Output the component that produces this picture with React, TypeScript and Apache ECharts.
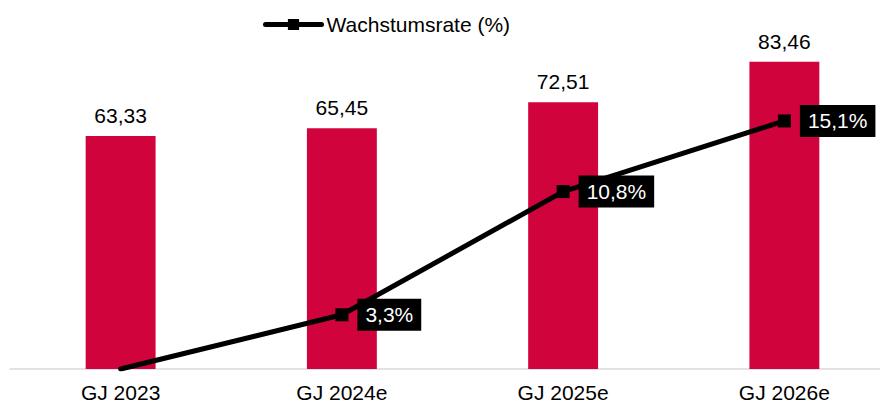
import React, { useEffect, useRef } from "react";
import * as echarts from "echarts";

const categories = ["GJ 2023", "GJ 2024e", "GJ 2025e", "GJ 2026e"];
const barValues = [63.33, 65.45, 72.51, 83.46];
const growthRates = [0, 3.3, 10.8, 15.1];
const lineName = "Wachstumsrate (%)";

const fmt = (v: number, d: number) => v.toFixed(d).replace(".", ",");

export default function App() {
  const ref = useRef<HTMLDivElement>(null);
  useEffect(() => {
    if (!ref.current) return;
    const chart = echarts.init(ref.current, null, { renderer: "svg" });
    const font = "Arial, 'Liberation Sans', sans-serif";
    chart.setOption({
      animation: false,
      textStyle: { fontFamily: font },
      legend: {
        data: [lineName],
        left: 263,
        top: 14,
        padding: 0,
        itemWidth: 56,
        itemHeight: 14,
        itemGap: 5,
        lineStyle: { width: 5, color: "#000" },
        textStyle: { fontSize: 21, color: "#000", fontFamily: font },
      },
      grid: {
        left: 10,
        right: -15,
        top: 1,
        bottom: 34,
        containLabel: false,
        outerBoundsMode: "none",
      },
      xAxis: {
        type: "category",
        data: categories,
        axisTick: { show: false },
        axisLine: { lineStyle: { color: "#D9D9D9", width: 1.5 } },
        axisLabel: {
          color: "#000",
          fontSize: 21,
          lineHeight: 16,
          margin: 15,
          fontFamily: font,
        },
      },
      yAxis: [
        { type: "value", min: 0, max: 100, show: false, splitLine: { show: false } },
        { type: "value", min: 0, max: 22.4, show: false, splitLine: { show: false } },
      ],
      series: [
        {
          type: "bar",
          data: barValues,
          barWidth: "31.6%",
          itemStyle: { color: "#D0033C" },
          label: {
            show: true,
            position: "top",
            distance: 10,
            color: "#000",
            fontSize: 21,
            fontFamily: font,
            formatter: (p: any) => fmt(p.value, 2),
          },
        },
        {
          type: "line",
          name: lineName,
          yAxisIndex: 1,
          z: 5,
          data: growthRates.map((v, i) =>
            i === 0
              ? { value: v, symbol: "none", label: { show: false } }
              : { value: v }
          ),
          symbol: "rect",
          symbolSize: 13,
          itemStyle: { color: "#000" },
          lineStyle: { color: "#000", width: 5, cap: "round" },
          label: {
            show: true,
            position: "right",
            distance: 9,
            color: "#fff",
            backgroundColor: "#000",
            fontSize: 21,
            fontFamily: font,
            padding: [6, 8, 5, 8],
            formatter: (p: any) => fmt(p.value, 1) + "%",
          },
        },
      ],
    });
    return () => chart.dispose();
  }, []);
  return (
    <div
      ref={ref}
      style={{ position: "absolute", left: 0, top: 0, width: 880, height: 403 }}
    />
  );
}
